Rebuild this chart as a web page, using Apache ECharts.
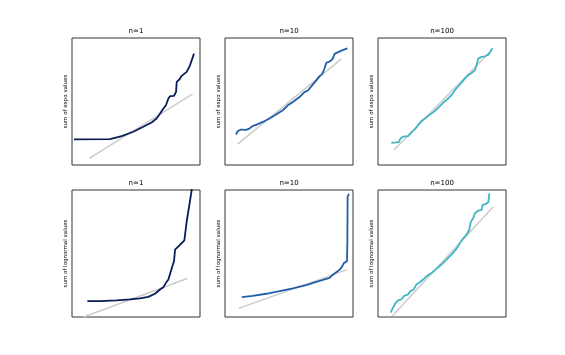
<!DOCTYPE html>
<html><head><meta charset="utf-8">
<script src="https://cdn.jsdelivr.net/npm/echarts@6/dist/echarts.min.js"></script>
<style>html,body{margin:0;padding:0;background:#fff}#c{width:565px;height:355px}</style>
</head><body><div id="c"></div>
<script>
const titles = ["n=1", "n=10", "n=100", "n=1", "n=10", "n=100"];
const yLabels = ["sum of expo values", "sum of expo values", "sum of expo values",
  "sum of lognormal values", "sum of lognormal values", "sum of lognormal values"];

// sample quantile curves [theoretical, sample] in plot units (no ticks shown)
const expo1 = [[1.6,20.2],[29.7,20.4],[38.8,22.8],[47.9,26.2],[55.7,30.1],[62.2,33.5],[66.1,36.6],[68.8,40.6],[71.4,44.5],[73.4,47.1],[75.3,52.4],[76.6,54.2],[79.7,54.5],[81.3,57.6],[81.8,65.4],[83.9,67.3],[85.7,70.2],[89.6,73.3],[92.2,78.5],[95.3,87.7]];
const expo10 = [[8.6,24.0],[9.9,26.6],[12.5,27.9],[16.4,27.7],[19.1,28.7],[21.7,30.8],[24.3,31.6],[29.5,33.9],[34.7,36.6],[39.9,39.7],[45.2,43.1],[49.1,47.0],[53.0,49.6],[58.2,53.5],[62.1,57.4],[64.8,58.7],[67.4,61.9],[71.3,66.6],[73.9,70.0],[76.0,71.8],[77.8,76.2],[79.1,80.4],[81.7,81.5],[83.8,83.0],[85.6,87.5],[86.9,88.8],[90.9,90.1],[95.6,91.9]];
const expo100 = [[10.4,17.5],[14.4,17.8],[16.4,18.1],[17.5,20.9],[19.6,22.3],[23.5,22.8],[26.1,25.7],[28.7,28.0],[31.3,31.4],[33.4,34.0],[36.6,36.6],[40.5,39.8],[43.1,41.4],[47.0,45.0],[50.9,49.0],[54.8,52.4],[57.4,55.0],[60.1,58.9],[62.7,62.0],[65.3,64.9],[67.9,68.1],[70.5,70.7],[73.1,72.5],[75.7,74.6],[77.0,78.5],[78.3,83.8],[80.9,85.1],[83.6,85.6],[86.2,86.9],[88.0,89.5],[89.3,92.1]];
const logn1 = [[12.0,12.5],[21.9,12.5],[34.9,13.1],[45.3,13.8],[53.1,14.6],[59.6,15.9],[64.8,18.3],[68.8,21.7],[71.4,23.5],[73.4,26.9],[75.3,29.5],[76.6,33.9],[78.4,39.9],[79.7,43.9],[80.5,53.0],[83.1,55.6],[87.8,60.3],[89.6,75.2],[91.7,88.3],[93.5,100],[95.0,112]];
const logn10 = [[13.1,15.7],[21.7,16.7],[32.1,18.3],[42.6,20.4],[53.0,22.5],[63.4,25.1],[71.3,27.7],[76.5,29.2],[81.7,30.8],[83.8,32.9],[86.9,35.2],[89.6,37.3],[91.6,39.9],[93.0,42.6],[95.3,43.9],[95.6,59.5],[95.8,94.8],[96.9,96.9]];
const logn100 = [[9.9,3.4],[11.7,7.3],[13.8,11.2],[15.7,13.1],[18.3,13.8],[20.1,16.4],[23.5,17.8],[25.3,20.4],[27.9,21.7],[30.0,25.6],[32.6,27.4],[35.2,29.5],[37.9,32.1],[41.8,34.7],[45.7,37.9],[49.6,41.3],[53.5,45.2],[57.4,49.1],[61.4,53.8],[64.0,58.2],[66.6,62.1],[69.2,64.8],[71.3,68.7],[72.6,75.2],[74.4,77.8],[75.7,81.7],[78.3,83.8],[80.9,84.3],[81.7,88.3],[84.3,89.0],[86.2,90.3],[87.0,97.4]];

// reference lines (endpoints)
const ref1 = [[13.5,5.2],[94.3,56.0]];
const ref10 = [[9.9,16.4],[90.9,83.6]];
const ref100 = [[12.5,11.8],[88.8,90.3]];
const refL1 = [[8.9,0.0],[90.1,30.3]];
const refL10 = [[10.7,6.8],[95.3,37.3]];
const refL100 = [[11.2,0.8],[90.1,86.9]];

const curves = [expo1, expo10, expo100, logn1, logn10, logn100];
const refs = [ref1, ref10, ref100, refL1, refL10, refL100];
const colors = ["#081d58", "#225ea8", "#41b6c4", "#081d58", "#225ea8", "#41b6c4"];

const lefts = [72, 225, 378];
const tops = [38, 190];
const W = 128, H = 127;

const grid = [], xAxis = [], yAxis = [], series = [], title = [];
for (let i = 0; i < 6; i++) {
  const r = Math.floor(i / 3), c = i % 3;
  grid.push({left: lefts[c], top: tops[r], width: W, height: H, show: true,
    borderColor: '#333', borderWidth: 1, backgroundColor: 'transparent'});
  xAxis.push({type: 'value', gridIndex: i, min: 0, max: 100, show: true,
    axisLine: {show: false}, axisTick: {show: false}, axisLabel: {show: false}, splitLine: {show: false}});
  yAxis.push({type: 'value', gridIndex: i, min: 0, max: 100,
    name: yLabels[i], nameLocation: 'middle', nameGap: 3, nameRotate: 90,
    nameTextStyle: {fontFamily: 'DejaVu Sans', fontSize: 5.5, color: '#000'},
    axisLine: {show: false}, axisTick: {show: false}, axisLabel: {show: false}, splitLine: {show: false}});
  title.push({text: titles[i], left: lefts[c] + W / 2, top: tops[r] - 10, textAlign: 'center', padding: 0,
    textStyle: {fontFamily: 'DejaVu Sans', fontSize: 7, fontWeight: 'normal', color: '#000'}});
  series.push({type: 'line', xAxisIndex: i, yAxisIndex: i, data: refs[i], symbol: 'none',
    lineStyle: {color: '#cccccc', width: 1.5}, silent: true, animation: false, z: 2});
  series.push({type: 'line', xAxisIndex: i, yAxisIndex: i, data: curves[i], symbol: 'none',
    lineStyle: {color: colors[i], width: 1.8}, silent: true, animation: false, z: 3, clip: true});
}

const chart = echarts.init(document.getElementById('c'), null, {renderer: 'canvas'});
chart.setOption({backgroundColor: '#fff', animation: false, title, grid, xAxis, yAxis, series});
</script>
</body></html>
